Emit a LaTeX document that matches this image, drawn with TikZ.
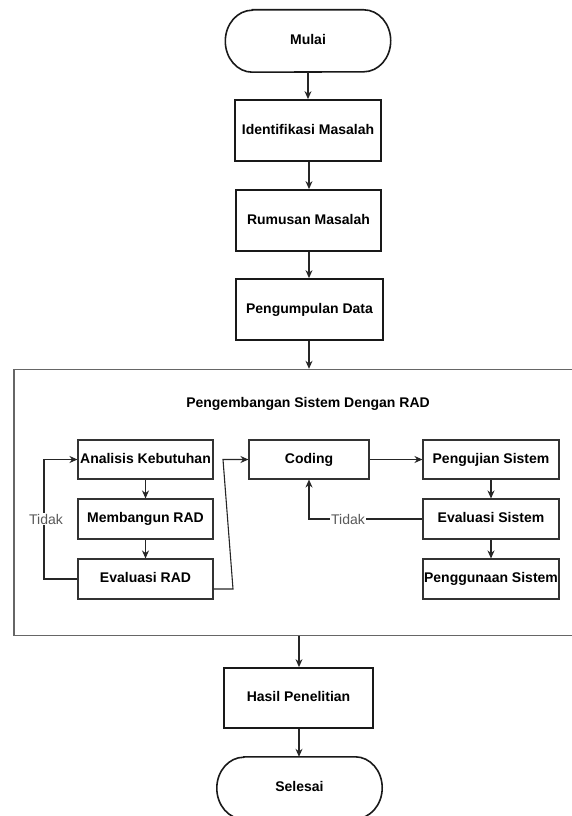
\documentclass[tikz,border=0pt]{standalone}
\usepackage{fontspec}
\setmainfont{Liberation Sans}
\usetikzlibrary{arrows.meta,calc}

\tikzset{
  x=1pt, y=1pt,
  base/.style={font=\fontsize{14}{16}\selectfont\bfseries, align=center, inner sep=0pt,
               text height=10pt, text depth=3pt},
  mainbox/.style={base, draw=black!90, line width=1.8pt},
  subbox/.style={base, draw=black!80, line width=1.1pt},
  terminal/.style={base, minimum width=165pt, minimum height=62pt},
  frame/.style={draw=black!60, line width=1.4pt, inner sep=0pt},
  conn/.style={draw=black!85, line width=1.1pt},
  arr/.style={conn, -{Stealth[length=8pt, width=7pt]}},
  nolabel/.style={fill=white, inner sep=1pt, text=black!65, font=\fontsize{14}{16}\selectfont}
}

% stadium outline with elliptical caps around a terminal node
\newcommand{\stadium}[1]{%
  \draw[line width=1.6pt, black!90]
    ($(#1.north west)+(27,0)$) -- ($(#1.north east)+(-27,0)$)
    arc[start angle=90, end angle=-90, x radius=27, y radius=31]
    -- ($(#1.south west)+(27,0)$)
    arc[start angle=270, end angle=90, x radius=27, y radius=31] -- cycle;}

\begin{document}
\begin{tikzpicture}
\useasboundingbox (0,0) rectangle (572,-816);

% main column
\node[terminal] (mulai) at (308,-41) {Mulai};
\stadium{mulai}
\node[mainbox, minimum width=146pt, minimum height=61pt] (ident) at (308,-130.5) {Identifikasi Masalah};
\node[mainbox, minimum width=145pt, minimum height=61pt] (rumusan) at (308.5,-220.5) {Rumusan Masalah};
\node[mainbox, minimum width=147pt, minimum height=61pt] (kumpul) at (309.5,-309.5) {Pengumpulan Data};

% RAD development frame
\node[frame, minimum width=566pt, minimum height=266pt] (rad) at (297,-502.5) {};
\node[base] (judul) at (308,-404) {Pengembangan Sistem Dengan RAD};

\node[subbox, minimum width=135pt, minimum height=39pt] (analisis) at (145.5,-459.5) {Analisis Kebutuhan};
\node[subbox, minimum width=135pt, minimum height=40pt] (bangun) at (145.5,-519) {Membangun RAD};
\node[subbox, minimum width=135pt, minimum height=40pt] (evalrad) at (145.5,-579) {Evaluasi RAD};
\node[subbox, minimum width=120pt, minimum height=39pt] (coding) at (309,-459.5) {Coding};
\node[subbox, minimum width=136pt, minimum height=39pt] (uji) at (491,-459.5) {Pengujian Sistem};
\node[subbox, minimum width=136pt, minimum height=40pt] (evalsis) at (491,-519) {Evaluasi Sistem};
\node[subbox, minimum width=136pt, minimum height=40pt] (guna) at (491,-579) {Penggunaan Sistem};

\node[mainbox, minimum width=149pt, minimum height=60pt] (hasil) at (298.5,-698) {Hasil Penelitian};
\node[terminal] (selesai) at (299.5,-788) {Selesai};
\stadium{selesai}

% main flow
\coordinate (c1) at (308,0);
\coordinate (c2) at (309,0);
\coordinate (c3) at (299,0);
\draw[arr] (c1 |- mulai.south) -- (c1 |- ident.north);
\draw[arr] (c2 |- ident.south) -- (c2 |- rumusan.north);
\draw[arr] (c2 |- rumusan.south) -- (c2 |- kumpul.north);
\draw[arr] (c2 |- kumpul.south) -- (c2 |- rad.north);
\draw[arr] (c3 |- rad.south) -- (c3 |- hasil.north);
\draw[arr] (c3 |- hasil.south) -- (c3 |- selesai.north);

% RAD cycle
\draw[arr] (analisis.south) -- (bangun.north);
\draw[arr] (bangun.south) -- (evalrad.north);
\coordinate (kiri) at (44,0);
\draw[arr] (evalrad.west) -- (kiri |- evalrad.west) -- (kiri |- analisis.west) -- (analisis.west);
\node[nolabel] (tidak1) at (46,-519) {Tidak};

\coordinate (keluar) at ($(evalrad.east)+(0,-10)$);
\coordinate (b1) at (233,-589);
\coordinate (b2) at (223,-459.5);
\draw[arr] (keluar) -- (b1) -- (b2) -- (coding.west);

% system cycle
\draw[arr] (coding.east) -- (uji.west);
\draw[arr] (uji.south) -- (evalsis.north);
\draw[arr] (evalsis.south) -- (guna.north);
\draw[arr] (evalsis.west) -- (coding.south |- evalsis.west) -- (coding.south);
\node[nolabel] (tidak2) at (348,-519) {Tidak};
\end{tikzpicture}
\end{document}
